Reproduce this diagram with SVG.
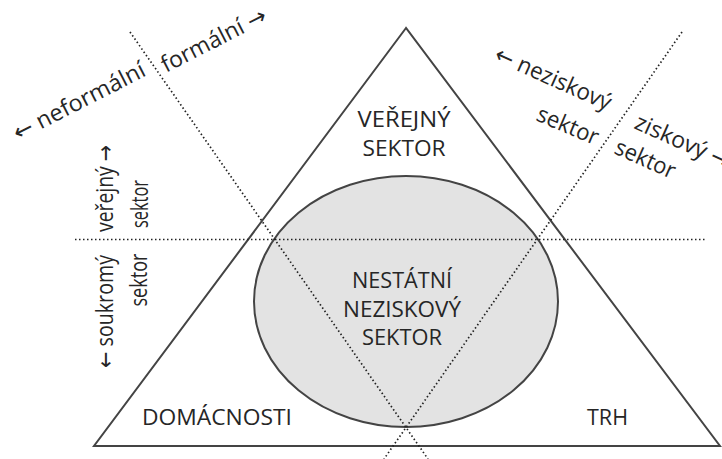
<svg xmlns="http://www.w3.org/2000/svg" width="722" height="459" viewBox="0 0 722 459">
  <style>
    .solid { fill: none; stroke: #444; stroke-width: 2; stroke-linejoin: miter; }
    .dots { fill: none; stroke: #222; stroke-width: 1.7; stroke-dasharray: 1.5 2.5; }
    .cap { font-family: "Open Sans", "Noto Sans", "DejaVu Sans", sans-serif; font-size: 22px; fill: #262626; text-anchor: middle; }
    .lbl { font-family: "Open Sans", "Noto Sans", "DejaVu Sans", sans-serif; font-size: 23px; fill: #262626; }
    .mid { text-anchor: middle; }
  </style>

  <rect width="722" height="459" fill="#fff"/>

  <!-- outer triangle: public sector / households / market -->
  <g id="triangle">
    <polygon class="solid" points="406,28 94,446 720,446"/>
  </g>

  <!-- shaded non-governmental non-profit area -->
  <g id="ngo-ellipse">
    <ellipse cx="406" cy="301.5" rx="152" ry="125.5" fill="#e3e3e3" stroke="#444" stroke-width="2"/>
  </g>

  <!-- dotted dividing lines -->
  <g id="connectors">
    <line class="dots" x1="75" y1="239.5" x2="707" y2="239.5"/>
    <line class="dots" x1="130" y1="32" x2="428" y2="459"/>
    <line class="dots" x1="682" y1="32" x2="384" y2="459"/>
  </g>

  <g id="public-sector">
    <text class="cap" x="404" y="127" textLength="93" lengthAdjust="spacingAndGlyphs">VEŘEJNÝ</text>
    <text class="cap" x="404" y="156" textLength="83" lengthAdjust="spacingAndGlyphs">SEKTOR</text>
  </g>

  <g id="ngo-sector">
    <text class="cap" x="402" y="288" textLength="100" lengthAdjust="spacingAndGlyphs">NESTÁTNÍ</text>
    <text class="cap" x="402" y="317" textLength="118" lengthAdjust="spacingAndGlyphs">NEZISKOVÝ</text>
    <text class="cap" x="402" y="345" textLength="80" lengthAdjust="spacingAndGlyphs">SEKTOR</text>
  </g>

  <g id="households">
    <text class="cap" x="217" y="425" textLength="150" lengthAdjust="spacingAndGlyphs">DOMÁCNOSTI</text>
  </g>

  <g id="market">
    <text class="cap" x="607.5" y="425" textLength="41" lengthAdjust="spacingAndGlyphs">TRH</text>
  </g>

  <!-- formal / informal axis labels -->
  <g id="informal-label">
    <text class="lbl" transform="translate(18,141) rotate(-27)" textLength="145" lengthAdjust="spacingAndGlyphs">← neformální</text>
  </g>
  <g id="formal-label">
    <text class="lbl" transform="translate(166,73) rotate(-27)" textLength="115" lengthAdjust="spacingAndGlyphs">formální →</text>
  </g>

  <!-- non-profit / profit axis labels -->
  <g id="nonprofit-label">
    <text class="lbl" transform="translate(493,60) rotate(24)" textLength="125" lengthAdjust="spacingAndGlyphs">← neziskový</text>
    <text class="lbl" transform="translate(535,120) rotate(23)" textLength="65" lengthAdjust="spacingAndGlyphs">sektor</text>
  </g>
  <g id="profit-label">
    <text class="lbl" transform="translate(633,128) rotate(24)" textLength="102" lengthAdjust="spacingAndGlyphs">ziskový →</text>
    <text class="lbl" transform="translate(613,153) rotate(24)" textLength="64" lengthAdjust="spacingAndGlyphs">sektor</text>
  </g>

  <!-- public / private axis labels -->
  <g id="public-label">
    <text class="lbl mid" transform="translate(113,188.5) rotate(-90)" textLength="87" lengthAdjust="spacingAndGlyphs">veřejný →</text>
    <text class="lbl mid" transform="translate(148,204) rotate(-90)" textLength="48" lengthAdjust="spacingAndGlyphs">sektor</text>
  </g>
  <g id="private-label">
    <text class="lbl mid" transform="translate(113,311.5) rotate(-90)" textLength="113" lengthAdjust="spacingAndGlyphs">← soukromý</text>
    <text class="lbl mid" transform="translate(147,280) rotate(-90)" textLength="53" lengthAdjust="spacingAndGlyphs">sektor</text>
  </g>
</svg>
